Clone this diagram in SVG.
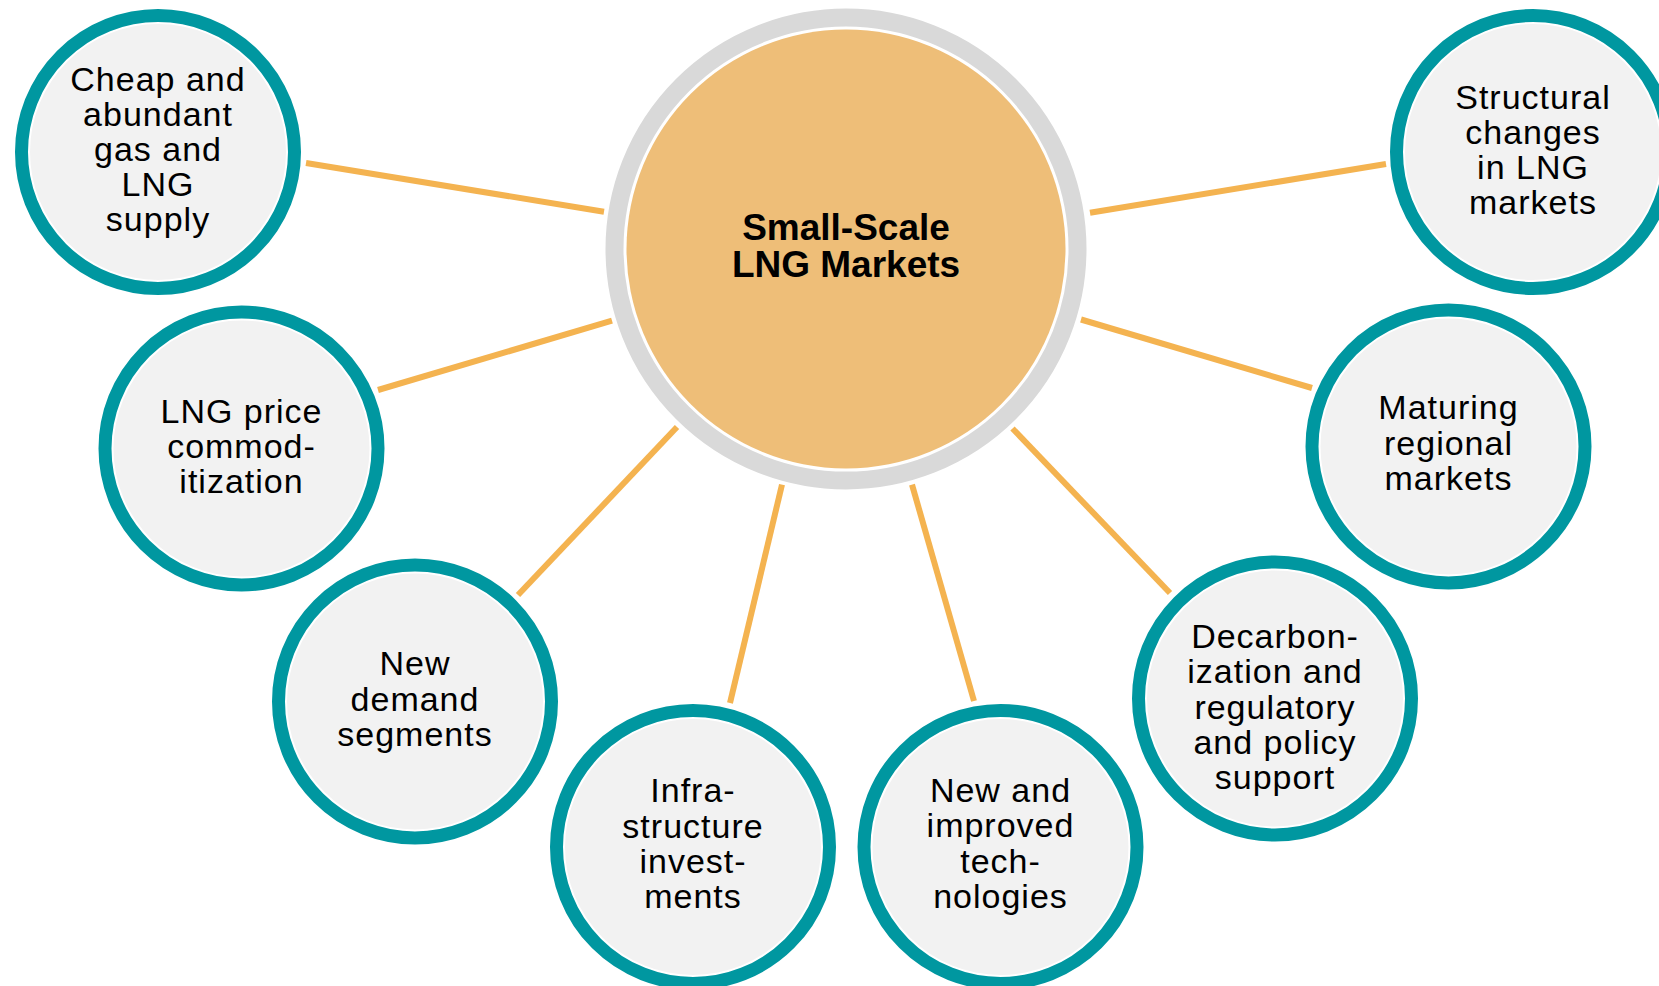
<svg xmlns="http://www.w3.org/2000/svg" width="1659" height="986" viewBox="0 0 1659 986">
<style>
.ring{fill:#ffffff;stroke:#0097A0;stroke-width:13}
.core{fill:#F2F2F2}
.lbl{font-family:"Liberation Sans",Arial,sans-serif;font-size:34px;letter-spacing:1px;fill:#000;text-anchor:middle}
.ttl{font-family:"Liberation Sans",Arial,sans-serif;font-size:37px;font-weight:bold;fill:#000;text-anchor:middle}
.conn line{stroke:#F4B350;stroke-width:6;stroke-linecap:butt}
</style>
<rect width="1659" height="986" fill="#ffffff"/>
<g id="connectors" class="conn">
<line x1="306" y1="163" x2="604" y2="211.7"/>
<line x1="378" y1="390" x2="612" y2="320.7"/>
<line x1="518" y1="595" x2="677" y2="427"/>
<line x1="730" y1="703" x2="782" y2="484.6"/>
<line x1="974" y1="701" x2="912" y2="484.6"/>
<line x1="1170" y1="593" x2="1012.5" y2="428.5"/>
<line x1="1312" y1="388" x2="1081" y2="319.5"/>
<line x1="1386" y1="164" x2="1090" y2="212.7"/>
</g>
<g id="center">
<circle cx="846" cy="249" r="231.5" fill="#ffffff" stroke="#D9D9D9" stroke-width="18"/>
<circle cx="846" cy="249" r="219.5" fill="#EEBE78"/>
<text class="ttl"><tspan x="846" y="240">Small-Scale</tspan><tspan x="846" y="277">LNG Markets</tspan></text>
</g>
<g id="node-cheap">
<circle class="ring" cx="158" cy="152" r="136.5"/>
<circle class="core" cx="158" cy="152" r="128"/>
<text class="lbl"><tspan x="158" y="91">Cheap and</tspan><tspan x="158" y="126">abundant</tspan><tspan x="158" y="161">gas and</tspan><tspan x="158" y="196">LNG</tspan><tspan x="158" y="231">supply</tspan></text>
</g>
<g id="node-structural">
<circle class="ring" cx="1533" cy="152" r="136.5"/>
<circle class="core" cx="1533" cy="152" r="128"/>
<text class="lbl"><tspan x="1533" y="109">Structural</tspan><tspan x="1533" y="144">changes</tspan><tspan x="1533" y="179">in LNG</tspan><tspan x="1533" y="214">markets</tspan></text>
</g>
<g id="node-price">
<circle class="ring" cx="241.5" cy="448.5" r="136.5"/>
<circle class="core" cx="241.5" cy="448.5" r="128"/>
<text class="lbl"><tspan x="241.5" y="423">LNG price</tspan><tspan x="241.5" y="458">commod-</tspan><tspan x="241.5" y="493">itization</tspan></text>
</g>
<g id="node-maturing">
<circle class="ring" cx="1448.5" cy="446.5" r="136.5"/>
<circle class="core" cx="1448.5" cy="446.5" r="128"/>
<text class="lbl"><tspan x="1448.5" y="419">Maturing</tspan><tspan x="1448.5" y="455">regional</tspan><tspan x="1448.5" y="490">markets</tspan></text>
</g>
<g id="node-demand">
<circle class="ring" cx="415" cy="701.5" r="136.5"/>
<circle class="core" cx="415" cy="701.5" r="128"/>
<text class="lbl"><tspan x="415" y="675">New</tspan><tspan x="415" y="711">demand</tspan><tspan x="415" y="746">segments</tspan></text>
</g>
<g id="node-decarbon">
<circle class="ring" cx="1275" cy="698.5" r="136.5"/>
<circle class="core" cx="1275" cy="698.5" r="128"/>
<text class="lbl"><tspan x="1275" y="648">Decarbon-</tspan><tspan x="1275" y="683">ization and</tspan><tspan x="1275" y="719">regulatory</tspan><tspan x="1275" y="754">and policy</tspan><tspan x="1275" y="789">support</tspan></text>
</g>
<g id="node-infra">
<circle class="ring" cx="693" cy="847" r="136.5"/>
<circle class="core" cx="693" cy="847" r="128"/>
<text class="lbl"><tspan x="693" y="802">Infra-</tspan><tspan x="693" y="838">structure</tspan><tspan x="693" y="873">invest-</tspan><tspan x="693" y="908">ments</tspan></text>
</g>
<g id="node-tech">
<circle class="ring" cx="1000.5" cy="847" r="136.5"/>
<circle class="core" cx="1000.5" cy="847" r="128"/>
<text class="lbl"><tspan x="1000.5" y="802">New and</tspan><tspan x="1000.5" y="837">improved</tspan><tspan x="1000.5" y="873">tech-</tspan><tspan x="1000.5" y="908">nologies</tspan></text>
</g>
</svg>
